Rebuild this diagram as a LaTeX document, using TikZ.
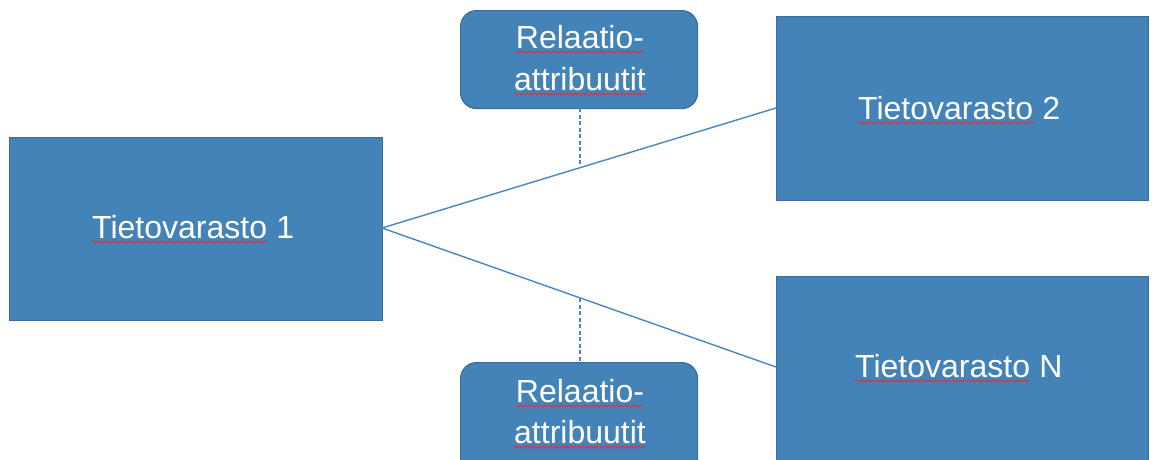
\documentclass[tikz,border=0pt]{standalone}
\usepackage{fontspec}
\setmainfont{Liberation Sans}
\usetikzlibrary{decorations.pathmorphing}
\definecolor{boxfill}{HTML}{4383B8}
\definecolor{boxedge}{HTML}{3A6D99}
\definecolor{linkcol}{HTML}{4A87C0}
\definecolor{wavecol}{HTML}{E0303A}
\begin{document}
\begin{tikzpicture}[x=1pt,y=-1pt,
  storebox/.style={draw=boxedge,line width=1.2pt,fill=boxfill},
  relbox/.style={draw=boxedge,line width=1.2pt,fill=boxfill,rounded corners=16pt},
  lbl/.style={text=white,font=\fontsize{32}{38}\selectfont,inner sep=0pt},
  link/.style={draw=linkcol,line width=1.4pt},
  dlink/.style={draw=linkcol,line width=1.1pt,dash pattern=on 4pt off 2.5pt},
  wave/.style={draw=wavecol,line width=0.9pt,decorate,decoration={snake,amplitude=1pt,segment length=4pt}}]
\useasboundingbox (0,0) rectangle (1152,459);
\clip (0,0) rectangle (1152,459);
% boxes
\node[storebox,minimum width=373pt,minimum height=183pt,anchor=north west,inner sep=0pt] (s1) at (9,137) {};
\node[storebox,minimum width=372pt,minimum height=184pt,anchor=north west,inner sep=0pt] (s2) at (776,16) {};
\node[storebox,minimum width=372pt,minimum height=200pt,anchor=north west,inner sep=0pt] (sn) at (776,276) {};
\node[relbox,minimum width=237pt,minimum height=98pt,anchor=north west,inner sep=0pt] (r1) at (460,10) {};
\node[relbox,minimum width=237pt,minimum height=120pt,anchor=north west,inner sep=0pt] (r2) at (460,362) {};
% link points
\coordinate (c1) at (382,228);
\coordinate (c2) at (776,108);
\coordinate (cn) at (776,367);
\draw[link] (c1) -- (c2);
\draw[link] (c1) -- (cn);
\coordinate (r1b) at (580,108);
\coordinate (r2t) at (580,362);
\coordinate (m1x) at (580,167.4);
\coordinate (m2x) at (580,298);
\draw[dlink] (r1b) -- (m1x);
\draw[dlink] (m2x) -- (r2t);
% texts
\node[lbl,anchor=base west] (t1w) at (92,238) {Tietovarasto};
\node[lbl,anchor=base west] (t1n) at (t1w.base east) {\ 1};
\node[lbl,anchor=base west] (t2w) at (858,119) {Tietovarasto};
\node[lbl,anchor=base west] (t2n) at (t2w.base east) {\ 2};
\node[lbl,anchor=base west] (tnw) at (855,377) {Tietovarasto};
\node[lbl,anchor=base west] (tnn) at (tnw.base east) {\ N};
\node[lbl,anchor=base] (r1a) at (580,48) {Relaatio-};
\node[lbl,anchor=base] (r1c) at (580,90) {attribuutit};
\node[lbl,anchor=base] (r2a) at (580,402) {Relaatio-};
\node[lbl,anchor=base] (r2c) at (580,443) {attribuutit};
% spell-check squiggles
\foreach \n in {t1w,t2w,tnw,r1a,r1c,r2a,r2c}{
  \draw[wave] ([yshift=-4pt]\n.base west) -- ([yshift=-4pt]\n.base east);
}
\end{tikzpicture}
\end{document}
